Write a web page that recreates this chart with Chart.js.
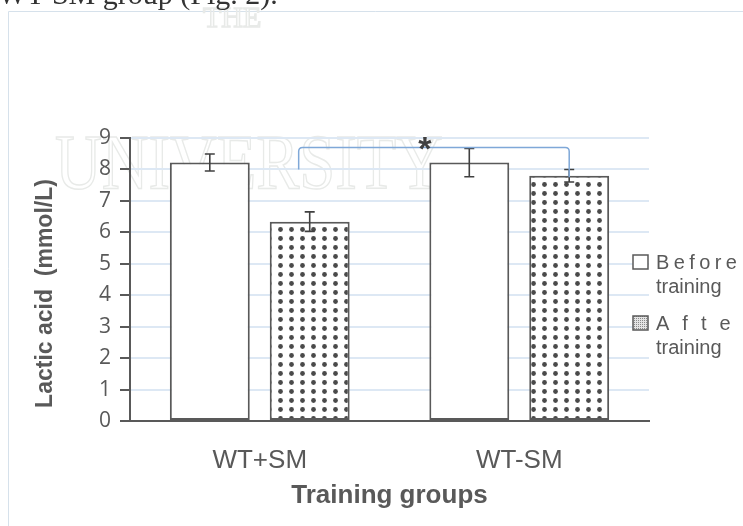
<!DOCTYPE html>
<html>
<head>
<meta charset="utf-8">
<title>Lactic acid by training group</title>
<script src="https://cdn.jsdelivr.net/npm/chart.js@4.4.1/dist/chart.umd.min.js"></script>
<style>
  html, body { margin: 0; padding: 0; background: #fff; }
  #wrap { position: relative; width: 743px; height: 526px; overflow: hidden; }
</style>
</head>
<body>
<div id="wrap"><canvas id="lactate"></canvas></div>
<script>
// values
const groups = ['WT+SM', 'WT-SM'];
const seriesNames = ['Before training', 'After training'];
const beforeTraining = [8.22, 8.22];
const afterTraining = [6.34, 7.80];
const beforeErr = [0.27, 0.45];
const afterErr = [0.31, 0.20];
const yTitle = 'Lactic acid  (mmol/L)';
const xTitle = 'Training groups';
const sigMark = '*';
// significance bracket: left foot, top, right foot (mmol/L)
const bracketLevels = [8.0, 8.7, 7.75];
const pageLine = 'WT-SM group (Fig. 2).';

const GREY = '#595959';

function dotPattern() {
  const c = document.createElement('canvas');
  c.width = 11; c.height = 9;
  const g = c.getContext('2d');
  g.fillStyle = '#fff';
  g.fillRect(0, 0, 11, 9);
  g.fillStyle = '#4a4a4a';
  g.beginPath();
  g.arc(5.5, 4.5, 2.4, 0, Math.PI * 2);
  g.fill();
  return g.createPattern(c, 'repeat');
}
function finePattern() {
  const c = document.createElement('canvas');
  c.width = 2; c.height = 2;
  const g = c.getContext('2d');
  g.fillStyle = '#e4e4e4';
  g.fillRect(0, 0, 2, 2);
  g.fillStyle = '#8a8a8a';
  g.fillRect(0, 0, 1, 1);
  return g.createPattern(c, 'repeat');
}
const dots = dotPattern();

const extras = {
  id: 'extras',
  beforeDraw(chart) {
    const ctx = chart.ctx;
    ctx.save();
    // page frame
    ctx.strokeStyle = '#d6e1eb';
    ctx.lineWidth = 1;
    ctx.beginPath();
    ctx.moveTo(8.5, 526);
    ctx.lineTo(8.5, 11.5);
    ctx.lineTo(743, 11.5);
    ctx.stroke();
    // faint watermark
    ctx.strokeStyle = '#e8eae8';
    ctx.lineWidth = 1.5;
    ctx.font = '78px "Liberation Serif"';
    ctx.textBaseline = 'alphabetic';
    ctx.strokeText('UNIVERSITY', 55, 188, 388);
    ctx.font = '30px "Liberation Serif"';
    ctx.strokeText('THE', 203, 27, 97);
    // cut-off line of body text above the figure
    ctx.fillStyle = '#333';
    ctx.font = '30px "Liberation Serif"';
    ctx.fillText(pageLine, -2, 4);
    ctx.restore();
  },
  afterDatasetsDraw(chart) {
    const ctx = chart.ctx;
    const y = chart.scales.y;
    const x = chart.scales.x;
    const errs = [beforeErr, afterErr];
    const vals = [beforeTraining, afterTraining];
    ctx.save();
    // error bars
    ctx.strokeStyle = '#404040';
    ctx.lineWidth = 1.6;
    for (let d = 0; d < 2; d++) {
      const meta = chart.getDatasetMeta(d);
      meta.data.forEach((bar, i) => {
        const top = y.getPixelForValue(vals[d][i] + errs[d][i]);
        const bot = y.getPixelForValue(vals[d][i] - errs[d][i]);
        ctx.beginPath();
        ctx.moveTo(bar.x, top); ctx.lineTo(bar.x, bot);
        ctx.moveTo(bar.x - 5, top); ctx.lineTo(bar.x + 5, top);
        ctx.moveTo(bar.x - 5, bot); ctx.lineTo(bar.x + 5, bot);
        ctx.stroke();
      });
    }
    // significance bracket
    const catW = x.getPixelForValue(1) - x.getPixelForValue(0);
    const left = x.getPixelForValue(0) + catW * 0.15;
    const right = chart.getDatasetMeta(1).data[1].x;
    const yL = y.getPixelForValue(bracketLevels[0]);
    const yT = y.getPixelForValue(bracketLevels[1]);
    const yR = y.getPixelForValue(bracketLevels[2]);
    const r = 4;
    ctx.strokeStyle = '#7fa8d8';
    ctx.lineWidth = 1.5;
    ctx.beginPath();
    ctx.moveTo(left, yL);
    ctx.lineTo(left, yT + r);
    ctx.quadraticCurveTo(left, yT, left + r, yT);
    ctx.lineTo(right - r, yT);
    ctx.quadraticCurveTo(right, yT, right, yT + r);
    ctx.lineTo(right, yR);
    ctx.stroke();
    ctx.fillStyle = '#404040';
    ctx.font = 'bold 34px "Liberation Sans"';
    ctx.textAlign = 'center';
    ctx.textBaseline = 'alphabetic';
    ctx.fillText(sigMark, (left + right) / 2 - 9, yT + 13);
    ctx.restore();
  },
  afterDraw(chart) {
    const ctx = chart.ctx;
    const area = chart.chartArea;
    ctx.save();
    // y axis title
    ctx.fillStyle = GREY;
    ctx.font = 'bold 23px "Liberation Sans"';
    ctx.textAlign = 'center';
    ctx.textBaseline = 'middle';
    ctx.translate(46, area.top + (area.bottom - area.top) / 2 + 14);
    ctx.rotate(-Math.PI / 2);
    ctx.fillText(yTitle, 0, 0);
    ctx.restore();

    // legend
    ctx.save();
    const fills = ['#ffffff', finePattern()];
    const spacing = ['4.4px', '13px'];
    const bx = area.right - 16;
    seriesNames.forEach((name, i) => {
      const by = 255 + i * 61;
      ctx.fillStyle = fills[i];
      ctx.fillRect(bx, by, 15, 14);
      ctx.strokeStyle = GREY;
      ctx.lineWidth = 1.5;
      ctx.strokeRect(bx, by, 15, 14);
      const words = name.split(' ');
      ctx.fillStyle = GREY;
      ctx.font = '20px "Liberation Sans"';
      ctx.textAlign = 'left';
      ctx.textBaseline = 'middle';
      ctx.letterSpacing = spacing[i];
      ctx.fillText(words[0], bx + 23, by + 8);
      ctx.letterSpacing = '0px';
      ctx.fillText(words.slice(1).join(' '), bx + 23, by + 32);
    });
    ctx.restore();
  }
};

new Chart(document.getElementById('lactate'), {
  type: 'bar',
  data: {
    labels: groups,
    datasets: [
      {
        label: seriesNames[0],
        data: beforeTraining,
        backgroundColor: '#ffffff',
        borderColor: GREY,
        borderWidth: 2,
        borderSkipped: false
      },
      {
        label: seriesNames[1],
        data: afterTraining,
        backgroundColor: dots,
        borderColor: GREY,
        borderWidth: 2,
        borderSkipped: false
      }
    ]
  },
  options: {
    responsive: true,
    maintainAspectRatio: false,
    animation: false,
    categoryPercentage: 0.77,
    barPercentage: 0.8,
    layout: { padding: { top: 138, right: 94, left: 0, bottom: 0 } },
    plugins: {
      legend: { display: false },
      tooltip: { enabled: false }
    },
    scales: {
      x: {
        grid: { display: false },
        border: { display: true, color: GREY, width: 2 },
        ticks: {
          color: GREY,
          padding: 16,
          font: { family: '"Liberation Sans", Arial, sans-serif', size: 26 }
        },
        title: {
          display: true,
          text: xTitle,
          color: GREY,
          padding: { top: 0, bottom: 15 },
          font: { family: '"Liberation Sans", Arial, sans-serif', size: 26, weight: 'bold' }
        },
        afterFit(scale) { scale.height = 105; }
      },
      y: {
        min: 0,
        max: 9,
        ticks: {
          stepSize: 1,
          color: GREY,
          padding: 9,
          font: { family: '"Open Sans", sans-serif', size: 21 }
        },
        grid: {
          color: '#dde8f4',
          lineWidth: 2,
          drawTicks: true,
          tickLength: 10,
          tickColor: GREY,
          tickWidth: 2
        },
        border: { display: true, color: GREY, width: 2 },
        afterFit(scale) { scale.width = 130; }
      }
    }
  },
  plugins: [extras]
});
</script>
</body>
</html>
